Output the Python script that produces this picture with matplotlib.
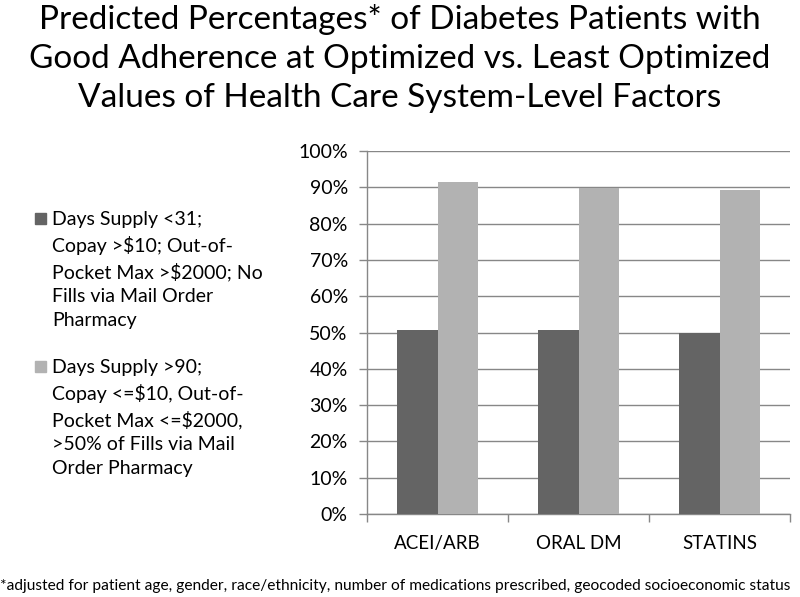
import matplotlib
matplotlib.use('Agg')
import matplotlib.pyplot as plt
from matplotlib.patches import Rectangle
import numpy as np

categories = ['ACEI/ARB', 'ORAL DM', 'STATINS']
least_optimized = [50.7, 50.6, 49.8]
optimized = [91.4, 89.7, 89.4]
series_labels = [
    'Days Supply <31;\nCopay >$10; Out-of-\nPocket Max >$2000; No\nFills via Mail Order\nPharmacy',
    'Days Supply >90;\nCopay <=$10, Out-of-\nPocket Max <=$2000,\n>50% of Fills via Mail\nOrder Pharmacy',
]
title = ('Predicted Percentages* of Diabetes Patients with\n'
         'Good Adherence at Optimized vs. Least Optimized\n'
         'Values of Health Care System-Level Factors')
footnote = ('*adjusted for patient age, gender, race/ethnicity, number of medications '
            'prescribed, geocoded socioeconomic status')

plt.rcParams['font.family'] = ['Lato', 'DejaVu Sans']
dark = '#646464'
light = '#b2b2b2'
axis_gray = '#878787'

fig = plt.figure(figsize=(8, 5.97), dpi=100)
ax = fig.add_axes([0.459, 0.139, 0.5285, 0.608])

x = np.arange(len(categories))
w = 0.286
ax.bar(x - w / 2, least_optimized, w, color=dark, zorder=3)
ax.bar(x + w / 2, optimized, w, color=light, zorder=3)

ax.set_xlim(-0.5, 2.5)
ax.set_ylim(0, 100)
ax.set_yticks(np.arange(0, 101, 10))
ax.set_yticklabels(['%d%%' % v for v in range(0, 101, 10)], fontsize=14)
ax.yaxis.grid(True, color=axis_gray, linewidth=1, zorder=0)
ax.tick_params(axis='y', length=6, color=axis_gray, width=1, pad=8)

ax.set_xticks(x)
ax.set_xticklabels(categories, fontsize=13.5)
ax.tick_params(axis='x', length=0, pad=15)
ax.set_xticks([-0.5, 0.5, 1.5, 2.5], minor=True)
ax.tick_params(axis='x', which='minor', length=6, color=axis_gray, width=1)

for s in ['top', 'right']:
    ax.spines[s].set_visible(False)
for s in ['left', 'bottom']:
    ax.spines[s].set_color(axis_gray)
    ax.spines[s].set_linewidth(1)

fig.text(0.5, 1 - 4 / 597, title, ha='center', va='top', fontsize=24,
         linespacing=1.37)

# legend, drawn by hand so the square sits at the first line
for i, (lab, col) in enumerate(zip(series_labels, [dark, light])):
    y0 = 1 - (213 + 148 * i) / 597
    fig.patches.append(Rectangle((35 / 800, y0 - 11 / 597), 11 / 800, 11 / 597,
                                 transform=fig.transFigure, color=col))
    fig.text(52 / 800, y0 + 2 / 597, lab, ha='left', va='top', fontsize=14,
             linespacing=1.5)

fig.text(0, 1 - 586 / 597, footnote, ha='left', va='center', fontsize=11.2)

fig.savefig('out.png', dpi=100)
